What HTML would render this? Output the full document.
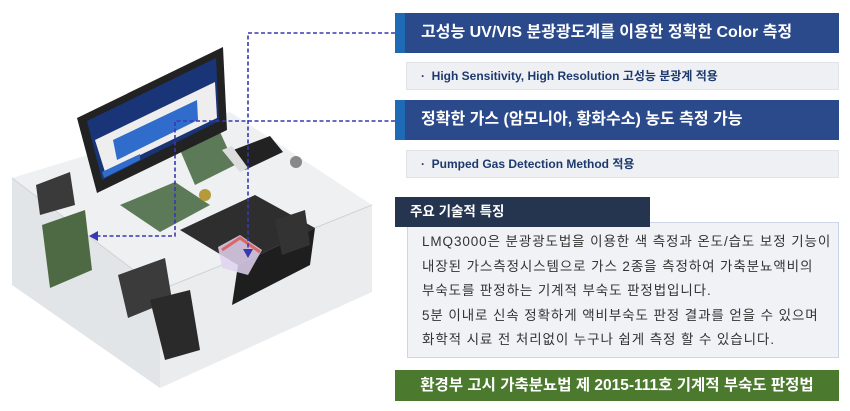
<!DOCTYPE html>
<html><head><meta charset="utf-8"><style>
body{margin:0;width:850px;height:411px;background:#fff;position:relative;overflow:hidden;font-family:"Liberation Sans","Noto Sans CJK KR",sans-serif}
.a{position:absolute;box-sizing:border-box;white-space:nowrap}
.hd{background:#2b4a8b;color:#fff;font-weight:bold;font-size:16px;line-height:40px;padding-left:22px}
.acc{background:#1e6ab5}
.sub{background:#eef0f3;border:1px solid #e0e3e8;color:#1d3a6e;font-weight:bold;font-size:12px;line-height:26px;padding-left:14px}
.tb{background:#f0f2f6;border:1px solid #ccd6e6;color:#333;font-size:13.5px;letter-spacing:0.9px;line-height:24.5px;padding:7px 0 0 14px}
</style></head><body>
<svg class="a" style="left:0;top:0" width="400" height="411">
<polygon points="12,178 230,112 372,205 160,290" fill="#eef0f1"/>
<polygon points="12,178 160,290 160,388 12,285" fill="#e2e5e7"/>
<polygon points="160,290 372,205 372,292 160,388" fill="#eaeced"/>
<polyline points="12,178 160,290 372,205" fill="none" stroke="#d0d3d6"/>
<polygon points="36,185 70,172 75,205 40,215" fill="#3a3a3a"/>
<polygon points="42,225 85,210 92,270 50,288" fill="#4e6a45"/>
<polygon points="180,230 255,195 315,228 238,265" fill="#2e2e2e"/>
<polygon points="238,265 315,228 310,265 232,305" fill="#1e1e1e"/>
<polygon points="120,205 175,182 210,205 160,232" fill="#5d7a58"/>
<polygon points="180,150 220,132 235,165 195,185" fill="#5d7a58"/>
<polygon points="118,275 165,258 172,300 128,318" fill="#3b3b3b"/>
<polygon points="150,300 190,290 200,350 165,360" fill="#2a2a2a"/>
<polygon points="275,220 305,210 310,245 282,255" fill="#333"/>
<polygon points="228,152 270,136 283,152 245,170" fill="#222"/>
<polygon points="222,150 232,146 248,168 240,172" fill="#ddd"/>
<circle cx="296" cy="162" r="6" fill="#888"/>
<circle cx="205" cy="195" r="6" fill="#b59a3a"/>
<polygon points="218,247 240,235 262,250 248,275 222,268" fill="#e0d4f0" opacity=".85"/>
<polyline points="222,250 240,238 260,252" stroke="#d66" stroke-width="3" fill="none"/>
<polygon points="77,118 223,47 227,130 97,193" fill="#222"/>
<polygon points="87,121 216,58 219,121 102,180" fill="#1a3577"/>
<polygon points="95,140 215,82 217,118 105,172" fill="#eeeeee"/>
<polygon points="113,140 197,100 198,120 117,160" fill="#2f6ccc"/>
<polygon points="102,172 140,154 140,160 104,178" fill="#2f6ccc"/>
<g stroke="#3838b0" stroke-width="1.6" stroke-dasharray="4,2.5" fill="none">
<polyline points="395,33 248,33 248,250"/>
<polyline points="395,121 175,121 175,236 98,236"/>
</g>
<polygon points="243,249 253,249 248,258" fill="#3838b0"/>
<polygon points="98,231 98,241 89,236" fill="#3838b0"/>
</svg>
<div class="a acc" style="left:395px;top:13px;width:12px;height:40px"></div>
<div class="a hd" style="left:405px;top:13px;width:434px;height:40px;padding-left:16px">고성능 UV/VIS 분광광도계를 이용한 정확한 Color 측정</div>
<div class="a sub" style="left:406px;top:62px;width:433px;height:28px">·&nbsp; High Sensitivity, High Resolution 고성능 분광계 적용</div>
<div class="a acc" style="left:395px;top:100px;width:12px;height:40px"></div>
<div class="a hd" style="left:405px;top:100px;width:434px;height:40px;padding-left:16px">정확한 가스 (암모니아, 황화수소) 농도 측정 가능</div>
<div class="a sub" style="left:406px;top:150px;width:433px;height:28px">·&nbsp; Pumped Gas Detection Method 적용</div>
<div class="a tb" style="left:407px;top:222px;width:432px;height:136px">LMQ3000은 분광광도법을 이용한 색 측정과 온도/습도 보정 기능이<br>내장된 가스측정시스템으로 가스 2종을 측정하여 가축분뇨액비의<br>부숙도를 판정하는 기계적 부숙도 판정법입니다.<br>5분 이내로 신속 정확하게 액비부숙도 판정 결과를 얻을 수 있으며<br>화학적 시료 전 처리없이 누구나 쉽게 측정 할 수 있습니다.</div>
<div class="a" style="left:395px;top:197px;width:255px;height:30px;background:#25344f;color:#fff;font-weight:bold;font-size:13.5px;line-height:30px;padding-left:15px">주요 기술적 특징</div>
<div class="a" style="left:395px;top:370px;width:444px;height:31px;background:#4b7a2e;color:#fff;font-weight:bold;font-size:15.5px;line-height:31px;text-align:center">환경부 고시 가축분뇨법 제 2015-111호 기계적 부숙도 판정법</div>
</body></html>
